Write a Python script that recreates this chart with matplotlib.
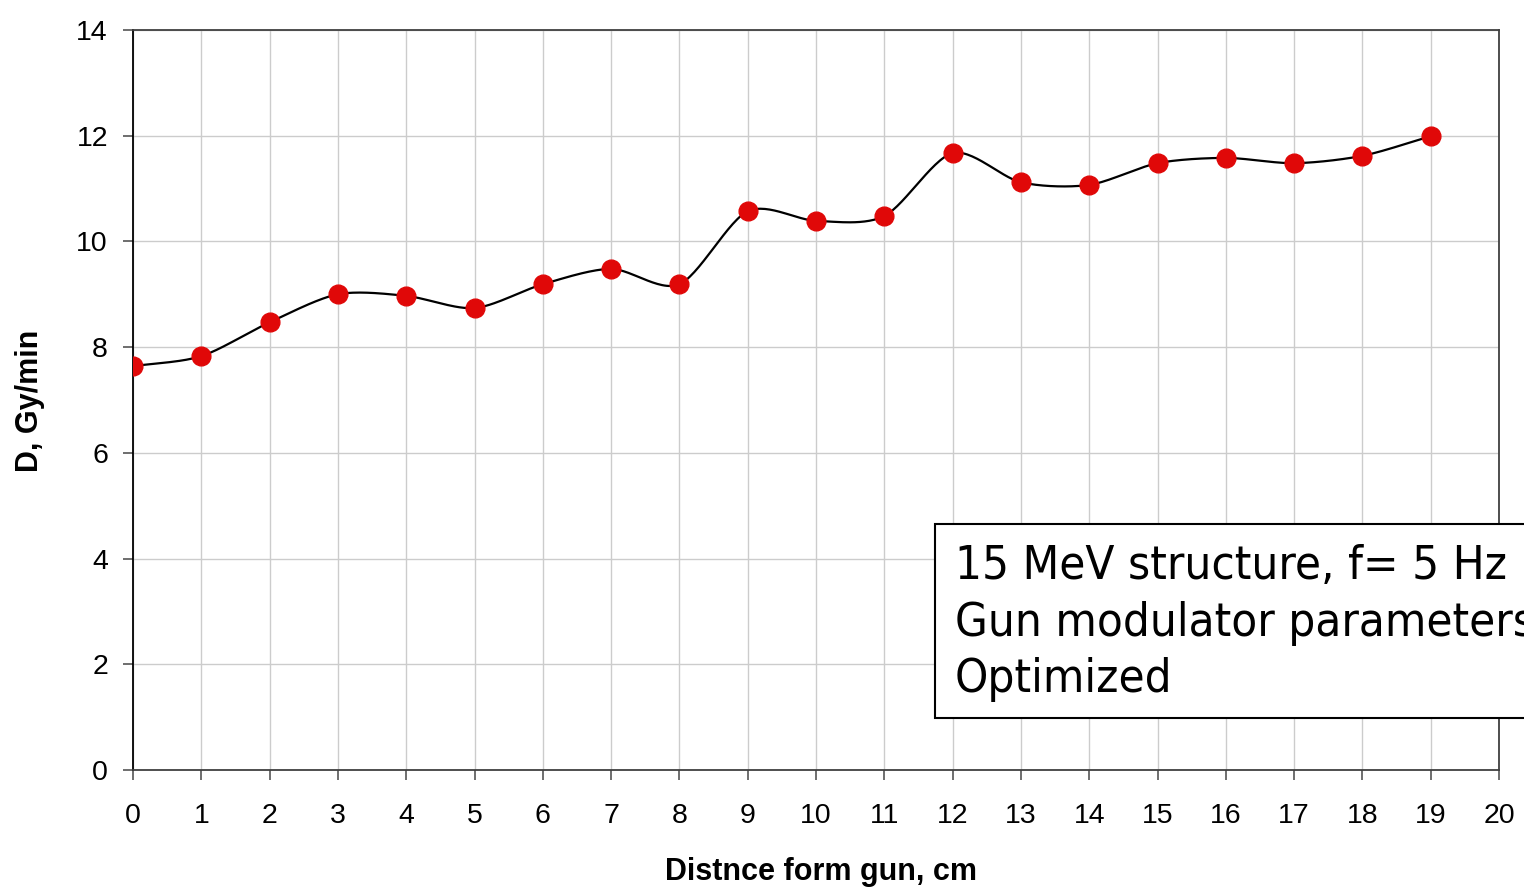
import numpy as np
import matplotlib
matplotlib.use("Agg")
import matplotlib.pyplot as plt
from matplotlib.patches import Rectangle

distance_cm = [0, 1, 2, 3, 4, 5, 6, 7, 8, 9, 10, 11, 12, 13, 14, 15, 16, 17, 18, 19]
dose_gy_min = [7.64, 7.83, 8.47, 9.00, 8.97, 8.74, 9.19, 9.48, 9.19, 10.57,
               10.39, 10.48, 11.67, 11.12, 11.07, 11.48, 11.58, 11.48, 11.62, 11.99]
x_ticks = list(range(0, 21))
y_ticks = [0, 2, 4, 6, 8, 10, 12, 14]
box_lines = ["15 MeV structure, f= 5 Hz", "Gun modulator parameters", "Optimized"]


def smooth(xs, ys, n=30, k=6.0):
    # Catmull-Rom style smoothing (like spreadsheet smoothed lines)
    xs = np.asarray(xs, float); ys = np.asarray(ys, float)
    px = np.concatenate([[2*xs[0]-xs[1]], xs, [2*xs[-1]-xs[-2]]])
    py = np.concatenate([[2*ys[0]-ys[1]], ys, [2*ys[-1]-ys[-2]]])
    ox, oy = [], []
    for i in range(1, len(px) - 2):
        t = np.linspace(0, 1, n, endpoint=False)
        p0x, p1x, p2x, p3x = px[i-1:i+3]
        p0y, p1y, p2y, p3y = py[i-1:i+3]
        c1x = p1x + (p2x - p0x) / k; c1y = p1y + (p2y - p0y) / k
        c2x = p2x - (p3x - p1x) / k; c2y = p2y - (p3y - p1y) / k
        bx = (1-t)**3*p1x + 3*(1-t)**2*t*c1x + 3*(1-t)*t**2*c2x + t**3*p2x
        by = (1-t)**3*p1y + 3*(1-t)**2*t*c1y + 3*(1-t)*t**2*c2y + t**3*p2y
        ox.extend(bx); oy.extend(by)
    ox.append(xs[-1]); oy.append(ys[-1])
    return np.array(ox), np.array(oy)


fig = plt.figure(figsize=(15.24, 8.88), dpi=100)
ax = fig.add_axes([133/1524, 1 - 770/888, 1366/1524, 740/888])

sx, sy = smooth(distance_cm, dose_gy_min, k=7.0)
ax.plot(sx, sy, color="black", lw=1.6, zorder=3)
ax.plot(distance_cm, dose_gy_min, "o", color="#e00808", ms=13.5, mec="#e00808", zorder=4)

ax.set_xlim(0, 20)
ax.set_ylim(0, 14)
ax.set_xticks(x_ticks)
ax.set_yticks(y_ticks)
ax.grid(True, color="#cccccc", lw=1.0)
ax.set_axisbelow(True)
for s in ["top", "right", "bottom"]:
    ax.spines[s].set_color("#404040")
ax.spines["left"].set_color("black")
for s in ax.spines.values():
    s.set_linewidth(1.3)
ax.tick_params(axis="both", direction="out", length=7, width=1.2, color="#555555",
               labelsize=20.5)
ax.tick_params(axis="x", pad=17)
ax.tick_params(axis="y", pad=11)
for lab in ax.get_xticklabels() + ax.get_yticklabels():
    lab.set_fontfamily("Liberation Sans")

fig.text(821/1524, 1 - 872/888, "Distnce form gun, cm", ha="center", va="center",
         fontsize=22, fontweight="bold", family="Liberation Sans")
fig.text(30/1524, 1 - 401/888, "D, Gy/min", ha="center", va="center", rotation=90,
         fontsize=22, fontweight="bold", family="Liberation Sans")

rect = Rectangle((935/1524, 1 - 718/888), 700/1524, 194/888, transform=fig.transFigure,
                 facecolor="white", edgecolor="black", lw=1.5, zorder=10)
fig.patches.append(rect)
for i, line in enumerate(box_lines):
    fig.text(955/1524, 1 - (566 + 57*i)/888, line, ha="left", va="center",
             fontsize=34, family="DejaVu Sans", fontstretch="condensed", zorder=11)

fig.savefig("out.png", dpi=100)
